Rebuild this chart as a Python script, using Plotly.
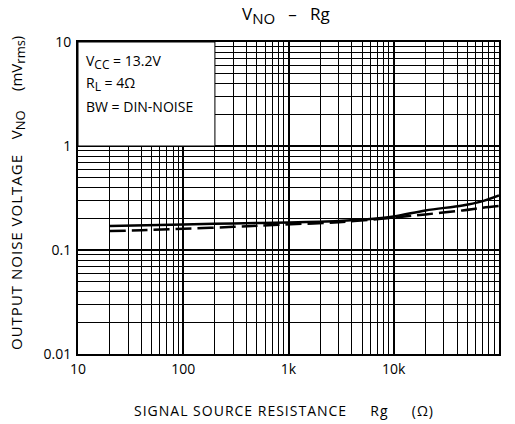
import plotly.graph_objects as go

# Data
rg_solid = [20, 100, 300, 1000, 3000, 5000, 10000, 20000, 45000, 66000, 100000]
vno_solid = [0.170, 0.176, 0.180, 0.184, 0.190, 0.196, 0.210, 0.240, 0.268, 0.290, 0.335]
rg_dash = [20, 40, 100, 300, 800, 3000, 10000, 20000, 45000, 70000, 100000]
vno_dash = [0.152, 0.155, 0.160, 0.167, 0.175, 0.185, 0.205, 0.220, 0.240, 0.255, 0.265]

x_tickvals = [10, 100, 1000, 10000, 100000]
x_ticktext = ["10", "100", "1k", "10k", "100k"]
y_tickvals = [0.01, 0.1, 1, 10]
y_ticktext = ["0.01", "0.1", "1", "10"]

FONT = "Open Sans"

fig = go.Figure()
fig.add_trace(go.Scatter(x=rg_solid, y=vno_solid, mode="lines",
                         line=dict(color="black", width=2.5, shape="spline"),
                         showlegend=False))
fig.add_trace(go.Scatter(x=rg_dash, y=vno_dash, mode="lines",
                         line=dict(color="black", width=2.5, dash="16px,6px", shape="spline"),
                         showlegend=False))

axis_common = dict(
    type="log",
    showline=True, linecolor="black", linewidth=2, mirror=True,
    showgrid=True, gridcolor="black", gridwidth=2,
    ticks="", zeroline=False,
    tickfont=dict(family=FONT, size=14, color="black"),
    minor=dict(showgrid=True, gridcolor="black", gridwidth=1, dtick="D1", ticks=""),
)

fig.update_xaxes(range=[1, 5], tickvals=x_tickvals, ticktext=x_ticktext,
                 ticklabelstandoff=1, **axis_common)
fig.update_yaxes(range=[-2, 1], tickvals=y_tickvals, ticktext=y_ticktext,
                 ticklabelstandoff=2, **axis_common)

# White box for the condition text (covers the grid)
fig.add_shape(type="rect", xref="x", yref="y", x0=10, x1=200, y0=1, y1=10,
              fillcolor="white", line=dict(color="black", width=1), layer="between")

nb = "\u00a0"


def sub(t, size):
    return "<sub><span style='font-size:%dpx'>%s</span></sub>" % (size, t)


def spaced(t):
    return "<span style='letter-spacing:1px'>%s</span>" % t


annotations = [
    dict(text="V" + sub("NO", 15) + nb * 3 + "–" + nb * 3 + "Rg", x=286, y=15,
         font=dict(size=17)),
    dict(text=spaced("SIGNAL" + nb + "SOURCE" + nb + "RESISTANCE" + nb * 5 + "Rg" + nb * 5 + "(Ω)"),
         x=284, y=410, font=dict(size=14)),
    dict(text=spaced("OUTPUT" + nb + "NOISE" + nb + "VOLTAGE" + nb * 3) + "V" + sub("NO", 13)
         + nb * 5 + "(mV" + sub("rms", 13) + ")",
         x=18, y=193, textangle=-90, font=dict(size=15)),
]
box_lines = [("V" + sub("CC", 12) + " = 13.2V", 62), ("R" + sub("L", 12) + " = 4Ω", 84),
             ("BW = DIN-NOISE", 106)]
W, H = 515, 424
L, R, T, B = 78, 16, 42, 70
pw, ph = W - L - R, H - T - B


def px2paper(x, y):
    return (x - L) / pw, (H - B - y) / ph


for a in annotations:
    px, py = px2paper(a.pop("x"), a.pop("y"))
    a.update(x=px, y=py, xref="paper", yref="paper", showarrow=False,
             xanchor="center", yanchor="middle")
    a["font"].update(family=FONT, color="black")
    fig.add_annotation(**a)

for txt, yy in box_lines:
    px, py = px2paper(84, yy)
    fig.add_annotation(text=txt, x=px, y=py, xref="paper", yref="paper", showarrow=False,
                       xanchor="left", yanchor="middle",
                       font=dict(family=FONT, size=14, color="black"))

fig.update_layout(width=W, height=H, margin=dict(l=L, r=R, t=T, b=B),
                  paper_bgcolor="white", plot_bgcolor="white", showlegend=False)

fig.write_html("out.html")
